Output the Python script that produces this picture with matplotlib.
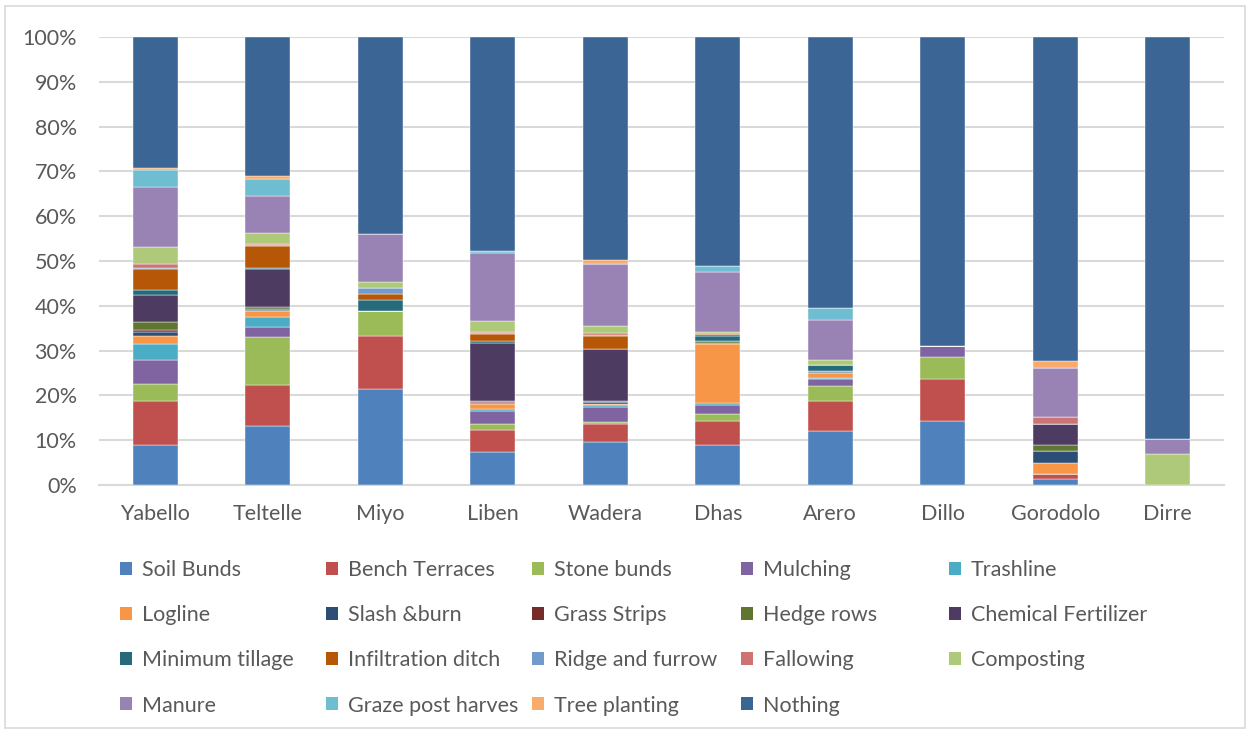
import numpy as np
import matplotlib.pyplot as plt
from matplotlib.patches import Patch, Rectangle
from matplotlib.ticker import PercentFormatter

# districts along the x axis
districts = ["Yabello", "Teltelle", "Miyo", "Liben", "Wadera",
             "Dhas", "Arero", "Dillo", "Gorodolo", "Dirre"]

# share of households per practice (%)
soil_bunds      = [8.9, 13.2, 21.4, 7.3, 9.5, 8.9, 12.0, 14.3, 1.3, 0.0]
bench_terraces  = [9.9, 9.1, 11.9, 5.0, 4.0, 5.4, 6.7, 9.4, 1.2, 0.0]
stone_bunds     = [3.7, 10.7, 5.5, 1.4, 0.6, 1.5, 3.5, 4.9, 0.0, 0.0]
mulching        = [5.5, 2.3, 0.0, 2.7, 3.2, 2.1, 1.4, 2.4, 0.0, 0.0]
trashline       = [3.4, 2.2, 0.0, 0.6, 0.4, 0.4, 0.3, 0.0, 0.0, 0.0]
logline         = [1.9, 1.4, 0.0, 1.0, 0.4, 13.2, 1.2, 0.0, 2.5, 0.0]
slash_burn      = [0.9, 0.2, 0.0, 0.2, 0.3, 0.3, 0.2, 0.0, 2.5, 0.0]
grass_strips    = [0.3, 0.2, 0.0, 0.25, 0.05, 0.0, 0.2, 0.0, 0.0, 0.0]
hedge_rows      = [1.9, 0.5, 0.0, 0.3, 0.3, 0.4, 0.0, 0.0, 1.4, 0.0]
chem_fertilizer = [6.1, 8.4, 0.0, 13.0, 11.6, 0.0, 0.0, 0.0, 4.8, 0.0]
min_tillage     = [1.0, 0.3, 2.6, 0.3, 0.0, 1.1, 1.2, 0.0, 0.0, 0.0]
infiltration    = [4.7, 4.9, 1.3, 1.7, 2.9, 0.5, 0.0, 0.0, 0.0, 0.0]
ridge_furrow    = [0.3, 0.2, 1.3, 0.1, 0.2, 0.0, 0.0, 0.0, 0.0, 0.0]
fallowing       = [0.8, 0.3, 0.0, 0.3, 0.3, 0.0, 0.0, 0.0, 1.4, 0.0]
composting      = [3.8, 2.3, 1.4, 2.4, 1.7, 0.4, 1.2, 0.0, 0.0, 6.9]
manure          = [13.4, 8.4, 10.6, 15.3, 13.8, 13.4, 8.9, 0.0, 11.1, 3.3]
graze_post      = [3.9, 3.8, 0.0, 0.3, 0.0, 1.2, 2.7, 0.0, 0.0, 0.0]
tree_planting   = [0.4, 0.6, 0.0, 0.0, 0.7, 0.0, 0.0, 0.0, 1.4, 0.0]
nothing         = [29.2, 31.0, 44.0, 47.8, 49.7, 51.2, 60.5, 69.0, 72.4, 89.8]

labels = ["Soil Bunds", "Bench Terraces", "Stone bunds", "Mulching", "Trashline",
          "Logline", "Slash &burn", "Grass Strips", "Hedge rows", "Chemical Fertilizer",
          "Minimum tillage", "Infiltration ditch", "Ridge and furrow", "Fallowing", "Composting",
          "Manure", "Graze post harves", "Tree planting", "Nothing"]

colors = ["#4F81BD", "#C0504D", "#9BBB59", "#8064A2", "#4BACC6",
          "#F79646", "#2C4D75", "#772C2A", "#5F7530", "#4D3B62",
          "#276A7C", "#B65708", "#729ACA", "#CD7371", "#AFC97A",
          "#9983B5", "#6FBDD1", "#F9AB6B", "#3A6595"]

series = [soil_bunds, bench_terraces, stone_bunds, mulching, trashline,
          logline, slash_burn, grass_strips, hedge_rows, chem_fertilizer,
          min_tillage, infiltration, ridge_furrow, fallowing, composting,
          manure, graze_post, tree_planting, nothing]

plt.rcParams['font.family'] = ['Lato', 'DejaVu Sans']
txt = "#595959"
grid = "#D9D9D9"

W, H = 1251, 734
fig = plt.figure(figsize=(W / 100, H / 100), dpi=100)
ax = fig.add_axes([99 / W, 1 - 485 / H, 1125 / W, 448 / H])

data = np.array(series, dtype=float)
pct = data / data.sum(axis=0) * 100  # 100% stacked

x = np.arange(len(districts))
bottom = np.zeros(len(districts))
for vals, c, lab in zip(pct, colors, labels):
    ax.bar(x, vals, 0.4, bottom=bottom, color=c, label=lab, zorder=3,
           edgecolor="white", linewidth=0.3)
    bottom += vals

ax.set_xlim(-0.5, len(districts) - 0.5)
ax.set_ylim(0, 100)
ax.set_yticks(np.arange(0, 101, 10))
ax.yaxis.set_major_formatter(PercentFormatter(decimals=0))
ax.set_xticks(x)
ax.set_xticklabels(districts)
ax.tick_params(axis="both", length=0, labelsize=15.5, colors=txt)
ax.tick_params(axis="y", pad=16)
ax.tick_params(axis="x", pad=14)
ax.grid(axis="y", color=grid, linewidth=1.5, zorder=0)
for s in ["top", "right", "left"]:
    ax.spines[s].set_visible(False)
ax.spines["bottom"].set_color(grid)
ax.spines["bottom"].set_linewidth(1.5)

# legend: 5 columns laid out row by row like the Excel one
col_x = [120, 326, 532, 741, 949]
for j in range(5):
    idx = [i * 5 + j for i in range(4) if i * 5 + j < len(labels)]
    handles = [Patch(facecolor=colors[k]) for k in idx]
    fig.legend(handles, [labels[k] for k in idx], loc="upper left",
               bbox_to_anchor=(col_x[j] / W, 1 - 560 / H),
               frameon=False, fontsize=15.5, labelcolor=txt,
               handlelength=0.55, handleheight=0.55, handletextpad=0.45,
               borderpad=0, borderaxespad=0, labelspacing=1.17)

fig.patches.append(Rectangle((5 / W, 6 / H), 1240 / W, 722 / H,
                             transform=fig.transFigure, fill=False,
                             edgecolor=grid, linewidth=1.2))

fig.savefig("out.png", dpi=100)
